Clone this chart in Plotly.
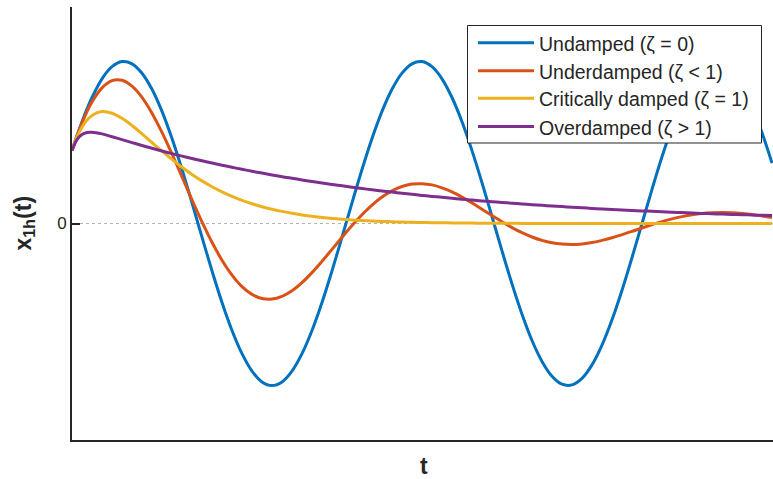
import plotly.graph_objects as go

# ---- data (t in arbitrary time units, x1h in arbitrary units) ----
t = [0, 5, 10, 15, 20] + list(range(30, 701, 10))

undamped = [72.9, 87.8, 101.8, 114.6, 126.0,
            144.7, 156.8, 161.9, 159.7, 150.3, 134.2, 112.1, 84.9,
            54.0, 20.6, -13.7, -47.4, -79.0, -107.0, -130.2, -147.6, -158.4, -162.0,
            -158.4, -147.6, -130.2, -107.0, -79.0, -47.4, -13.7, 20.6, 54.0, 85.0,
            112.1, 134.2, 150.4, 159.7, 161.9, 156.8, 144.7, 126.0, 101.8, 72.9,
            40.8, 6.9, -27.4, -60.4, -90.7, -117.0, -137.9, -152.7, -160.7, -161.4,
            -154.9, -141.4, -121.6, -96.3, -66.7, -34.1, 0.0, 34.2, 66.7, 96.3,
            121.6, 141.4, 154.9, 161.4, 160.7, 152.7, 137.9, 116.9, 90.7, 60.5]

underdamped = [72.9, 87.5, 100.5, 111.9, 121.6,
               135.6, 142.8, 143.2, 137.3, 126.1, 110.3, 91.1, 69.5,
               46.7, 23.7, 1.6, -18.8, -36.7, -51.6, -63.1, -70.9, -75.0, -75.6,
               -72.8, -67.2, -59.1, -49.1, -37.8, -25.9, -13.8, -2.0, 8.8, 18.4,
               26.5, 32.7, 37.0, 39.4, 39.8, 38.6, 35.7, 31.6, 26.4, 20.6,
               14.3, 7.9, 1.7, -4.1, -9.2, -13.5, -16.9, -19.3, -20.6, -21.0,
               -20.4, -19.1, -16.9, -14.3, -11.1, -7.9, -4.5, -1.2, 1.9, 4.6,
               6.9, 8.8, 10.1, 10.8, 11.1, 10.8, 10.1, 9.1, 7.6, 6.1]

critical = [72.9, 86.3, 96.3, 103.4, 108.1,
            111.9, 110.3, 105.2, 98.0, 89.7, 81.0, 72.4, 64.1,
            56.3, 49.1, 42.6, 36.8, 31.7, 27.2, 23.2, 19.8, 16.8, 14.3,
            12.1, 10.2, 8.6, 7.2, 6.1, 5.1, 4.3, 3.6, 3.0, 2.5,
            2.1, 1.7, 1.4, 1.2, 1.0, 0.8, 0.7, 0.6, 0.5, 0.4,
            0.3, 0.3, 0.2, 0.2, 0.1, 0.1, 0.1, 0.1, 0.1, 0.1,
            0.0, 0.0, 0.0, 0.0, 0.0, 0.0, 0.0, 0.0, 0.0, 0.0,
            0.0, 0.0, 0.0, 0.0, 0.0, 0.0, 0.0, 0.0, 0.0, 0.0]

overdamped = [72.9, 83.9, 89.0, 91.0, 91.3,
              89.6, 86.8, 83.9, 80.9, 78.0, 75.2, 72.5, 69.9,
              67.4, 65.0, 62.7, 60.5, 58.3, 56.2, 54.2, 52.2, 50.4, 48.6,
              46.8, 45.2, 43.6, 42.0, 40.5, 39.0, 37.7, 36.3, 35.0, 33.7,
              32.5, 31.4, 30.3, 29.2, 28.1, 27.1, 26.2, 25.2, 24.3, 23.4,
              22.6, 21.8, 21.0, 20.3, 19.5, 18.8, 18.2, 17.5, 16.9, 16.3,
              15.7, 15.1, 14.6, 14.1, 13.6, 13.1, 12.6, 12.2, 11.7, 11.3,
              10.9, 10.5, 10.1, 9.8, 9.4, 9.1, 8.8, 8.5, 8.2, 7.9]

series_names = ["Undamped (ζ = 0)", "Underdamped (ζ < 1)",
                "Critically damped (ζ = 1)", "Overdamped (ζ > 1)"]
series_values = [undamped, underdamped, critical, overdamped]
colors = ["#0072BD", "#D95319", "#EDB120", "#7E2F8E"]

y_ticks = [0]
y_tick_labels = ["0"]
x_label = "t"
y_label = "x<sub>1h</sub>(t)"

# ---- layout geometry (pixels) ----
W, H = 773, 479
ML, MR, MT, MB = 72, 0, 7, 39
PW, PH = W - ML - MR, H - MT - MB
FONT = "Liberation Sans, Arial, Helvetica, sans-serif"
AX = "#262626"


def px(xp):
    return (xp - ML) / PW


def py(yp):
    return (H - MB - yp) / PH


fig = go.Figure()

for name, vals, col in zip(series_names, series_values, colors):
    n = min(len(t), len(vals))
    fig.add_trace(go.Scatter(x=t[:n], y=vals[:n], mode="lines", name=name,
                             line=dict(color=col, width=3, shape="spline", smoothing=1.0),
                             showlegend=False, hoverinfo="skip"))

shapes = []
# dotted zero reference line
shapes.append(dict(type="line", xref="paper", yref="y", x0=px(80), x1=1, y0=0, y1=0,
                   line=dict(color="#b4b4b4", width=1, dash="dot"), layer="below"))

# legend (drawn by hand to match the reference)
box = dict(l=467.5, r=761.5, t=25.5, b=143)
shapes.append(dict(type="rect", xref="paper", yref="paper",
                   x0=px(box["l"]), x1=px(box["r"]), y0=py(box["b"]), y1=py(box["t"]),
                   line=dict(color=AX, width=1), fillcolor="white", layer="above"))
row_y = [42.7, 70.7, 98.3, 126.5]
annotations = []
for name, col, ry in zip(series_names, colors, row_y):
    shapes.append(dict(type="line", xref="paper", yref="paper",
                       x0=px(478), x1=px(534), y0=py(ry), y1=py(ry),
                       line=dict(color=col, width=3), layer="above"))
    annotations.append(dict(xref="paper", yref="paper", x=px(537), y=py(ry + 1),
                            xanchor="left", yanchor="middle", text=name, showarrow=False,
                            font=dict(family=FONT, size=19.5, color=AX)))

# axis labels
annotations.append(dict(xref="paper", yref="paper", x=0, y=0.5, xshift=-(ML - 24),
                        xanchor="center", yanchor="middle", textangle=-90,
                        text="<b>" + y_label + "</b>", showarrow=False,
                        font=dict(family=FONT, size=23, color=AX)))
annotations.append(dict(xref="paper", yref="paper", x=px(424), y=0, yshift=-26,
                        xanchor="center", yanchor="middle",
                        text="<b>" + x_label + "</b>", showarrow=False,
                        font=dict(family=FONT, size=23, color=AX)))

fig.update_layout(
    width=W, height=H,
    margin=dict(l=ML, r=MR, t=MT, b=MB, pad=0),
    paper_bgcolor="white", plot_bgcolor="white",
    shapes=shapes, annotations=annotations,
    showlegend=False,
    xaxis=dict(range=[0, PW], showgrid=False, zeroline=False, showticklabels=False,
               ticks="", showline=True, linecolor=AX, linewidth=2, fixedrange=True),
    yaxis=dict(range=[-216.5, 216.5], showgrid=False, zeroline=False,
               tickmode="array", tickvals=y_ticks, ticktext=y_tick_labels,
               ticks="inside", ticklen=8, tickwidth=2, tickcolor=AX,
               tickfont=dict(family=FONT, size=17, color=AX),
               showline=True, linecolor=AX, linewidth=2, fixedrange=True),
)

fig.write_html("out.html")
